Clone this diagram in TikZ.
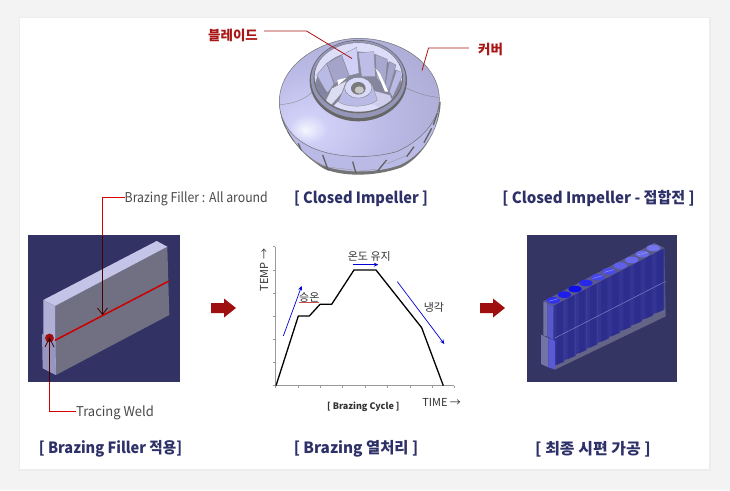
\documentclass[tikz,border=0pt]{standalone}
\usepackage{fontspec}
\setmainfont{Noto Sans CJK KR}
\usetikzlibrary{arrows.meta}
\definecolor{navy}{HTML}{2E3168}
\definecolor{lead}{HTML}{AA1515}
\definecolor{bred}{HTML}{A00F0F}
\definecolor{ts}{HTML}{4A4A4A}
\definecolor{panelbg}{HTML}{F3F3F3}
\definecolor{sA}{HTML}{F6F6FF}
\definecolor{sB}{HTML}{CFCFF7}
\definecolor{sC}{HTML}{BABAE6}
\definecolor{sD}{HTML}{A4A4CC}
\definecolor{cav}{HTML}{85859E}
\pgfdeclareradialshading{impshade}{\pgfpoint{-17bp}{-13bp}}{color(0bp)=(sA);color(6bp)=(sB);color(22bp)=(sC);color(50bp)=(sD);color(100bp)=(sD)}
\tikzset{
  captext/.style={font=\fontsize{15.5}{16}\selectfont\bfseries\addfontfeatures{FakeStretch=#1},text=navy,inner sep=0pt},
  captext/.default=0.94,
  redlbl/.style={font=\fontsize{13.5}{14}\selectfont\bfseries,text=lead,inner sep=0pt},
  graylbl/.style={font=\fontsize{13.5}{14}\selectfont\addfontfeatures{FakeStretch=#1},text=ts,inner sep=0pt},
  chartlbl/.style={font=\fontsize{11}{12}\selectfont,text=black!80,inner sep=0pt},
  leadline/.style={draw=lead,line width=0.8pt},
  redline/.style={draw=red!85!black,line width=0.8pt},
  darkline/.style={draw=black!40!red!45!black,line width=0.8pt},
  bigarrow/.style={fill=bred,draw=none},
  bluearrow/.style={draw=blue!85!black,line width=0.7pt,-{Stealth[length=4.5pt,width=4pt]}},
  bladeline/.style={draw=black!50,line width=0.25pt},
  axisline/.style={draw=black!40,line width=0.4pt}
}
\begin{document}
\begin{tikzpicture}[x=1pt,y=-1pt]
\useasboundingbox (0,0) rectangle (730,490);
\fill[panelbg] (0,0) rectangle (730,490);
\fill[black!7] (19,17) rectangle (711,471);
\fill[white] (20,18) rectangle (709,469);

%% Impeller
\begin{scope}[shift={(190,10)},scale=0.3333]
  \filldraw[fill=black!55,draw=none] (268,280) .. controls (268,340) and (310,420) .. (405,478) .. controls (440,490) and (470,494) .. (505,494) .. controls (545,494) and (590,488) .. (635,472) .. controls (700,440) and (752,350) .. (752,275) -- cycle;
  \begin{scope}
    \clip (268,280) .. controls (268,340) and (310,420) .. (405,478) .. controls (440,490) and (470,494) .. (505,494) .. controls (545,494) and (590,488) .. (635,472) .. controls (700,440) and (752,350) .. (752,275) -- cycle;
    \fill[sC] (275,315) .. controls (300,400) and (360,450) .. (410,470) .. controls (470,490) and (560,490) .. (630,465) .. controls (695,435) and (740,370) .. (746,300) -- (600,300) -- cycle;
    \foreach \a/\b/\c/\d in {272/320/285/355,292/365/310/395,325/400/345/450,398/435/415/482,488/455/498/490,590/450/562/484,672/410/650/440,725/355/702/398,742/310/730/345}
      \draw[black!62,line width=1.3pt] (\a,\b) -- (\c,\d);
    \foreach \a/\b/\c/\d in {420/472/490/480,500/484/560/478,590/462/650/436,350/440/400/468}
      \draw[black!40,line width=0.4pt] (\a,\b) -- (\c,\d);
  \end{scope}
  \shade[shading=impshade,draw=black!58,line width=0.45pt] (268,275) .. controls (268,160) and (400,85) .. (505,85) .. controls (640,85) and (750,170) .. (748,270) .. controls (748,330) and (695,392) .. (620,425) .. controls (540,448) and (420,445) .. (350,405) .. controls (300,378) and (268,330) .. (268,275) -- cycle;
  \draw[black!50,line width=0.3pt] (268,284) .. controls (310,282) and (345,268) .. (368,245);
  \draw[black!50,line width=0.3pt] (645,232) .. controls (680,250) and (715,260) .. (746,262);
  \fill[black!60] (505,212) ellipse [x radius=146,y radius=122];
  \fill[sC!80!black] (505,208) ellipse [x radius=142,y radius=116];
  \fill[black!58] (505,204) ellipse [x radius=134,y radius=106];
  \fill[sB!70!white] (505,200) ellipse [x radius=131,y radius=101];
  \begin{scope}
    \clip (505,203) ellipse [x radius=131,y radius=102];
    \fill[cav] (505,240) ellipse [x radius=131,y radius=115];
    \filldraw[fill=sC,bladeline] (380,195) -- (410,160) -- (432,222) -- (412,250) -- cycle;
    \filldraw[fill=sC!88!black,bladeline] (410,160) -- (455,135) -- (478,198) -- (434,222) -- cycle;
    \filldraw[fill=sB,bladeline] (455,135) -- (500,112) -- (507,190) -- (478,197) -- cycle;
    \filldraw[fill=sC!95!white,bladeline] (505,128) -- (552,125) -- (556,200) -- (515,200) -- cycle;
    \filldraw[fill=sC!90!black,bladeline] (556,133) -- (592,148) -- (585,228) -- (560,205) -- cycle;
    \filldraw[fill=sD,bladeline] (598,155) -- (618,165) -- (597,240) -- (585,228) -- cycle;
    \filldraw[fill=sC,bladeline] (620,180) -- (640,190) -- (608,262) -- (598,245) -- cycle;
    \filldraw[fill=sD!80!black,bladeline] (372,215) -- (415,250) -- (405,285) -- (372,260) -- cycle;
    \fill[white] (556,175) -- (570,190) -- (595,245) -- (585,245) -- cycle;
    \filldraw[fill=sC!50!white,bladeline] (425,235) -- (470,212) -- (455,250) -- (420,290) -- (408,270) -- cycle;
    \filldraw[fill=sC!70!white,bladeline] (545,240) -- (600,255) -- (620,300) -- (520,305) -- cycle;
    \fill[sB!70!white] (415,305) -- (450,268) -- (555,285) -- (590,310) -- cycle;
    \fill[white] (442,210) -- (470,203) -- (445,225) -- cycle;
  \end{scope}
  \filldraw[fill=sC,bladeline] (466,225) -- (445,275) .. controls (470,294) and (535,294) .. (562,270) -- (547,225) -- cycle;
  \filldraw[fill=sB!80!white,draw=black!55,line width=0.3pt] (505,233) ellipse [x radius=41,y radius=31];
  \fill[black!52] (505,235) ellipse [x radius=22,y radius=19];
  \fill[black!22] (508,240) ellipse [x radius=14,y radius=11];
\end{scope}
\node[redlbl] (lblBlade) at (233,35.5) {블레이드};
\node[redlbl] (lblCover) at (490.5,49.5) {커버};
\coordinate (bladeKnee) at (306.5,31);
\coordinate (bladeEnd) at (352,58.5);
\coordinate (coverKnee) at (428.5,48);
\coordinate (coverEnd) at (422,70.5);
\draw[leadline] (lblBlade.east |- bladeKnee) ++(6,0) -- (bladeKnee) -- (bladeEnd);
\draw[leadline] (lblCover.west |- coverKnee) ++(-9,0) -- (coverKnee) -- (coverEnd);

%% Captions
\node[captext] (capA) at (361,199) {[ Closed Impeller ]};
\node[captext=0.97] (capB) at (598.5,199) {[ Closed Impeller - 접합전 ]};
\node[captext] (capC) at (110.5,449) {[ Brazing Filler 적용]};
\node[captext=0.99] (capD) at (356,449) {[ Brazing 열처리 ]};
\node[captext=1.03] (capE) at (593,449) {[ 최종 시편 가공 ]};

%% Left block
\begin{scope}[shift={(20,180)},scale=0.3333]
  \fill[fill={rgb,255:red,50;green,50;blue,100}] (25,165) rectangle (479,605);
  \fill[fill={rgb,255:red,112;green,112;blue,130}] (105,378) -- (442,200) -- (448,405) -- (108,585) -- cycle;
  \fill[fill={rgb,255:red,196;green,196;blue,232}] (70,360) -- (410,183) -- (442,200) -- (105,378) -- cycle;
  \fill[fill={rgb,255:red,176;green,176;blue,214}] (70,360) -- (105,378) -- (108,585) -- (70,565) -- cycle;
  \fill[fill={rgb,255:red,150;green,150;blue,190}] (66,462) -- (105,480) -- (108,585) -- (68,565) -- cycle;
  \draw[red!80!black,line width=1.5pt] (105,481) -- (447,303);
\end{scope}
\node[graylbl=0.91,anchor=west] (lblFiller) at (124.5,198.5) {Brazing Filler : All around};
\node[graylbl=0.96,anchor=west] (lblWeld) at (76,412.5) {Tracing Weld};
\coordinate (fillerEnd) at (102.5,314.5);
\coordinate (fillerIn) at (102.5,235.5);
\coordinate (fillerKnee) at (102.5,197);
\coordinate (weldDot) at (49.5,338);
\coordinate (weldOut) at (49.5,381.5);
\coordinate (weldKnee) at (49.5,411);
\fill[fill=bred] (weldDot) circle (4.4);
\draw[redline] (lblFiller.west |- fillerKnee) -- (fillerKnee) -- (fillerIn);
\draw[darkline] (fillerIn) -- (fillerEnd);
\draw[darkline] (97.5,308) -- (fillerEnd) -- (107.5,308);
\draw[darkline] (weldDot) -- (weldOut);
\draw[darkline] (45,347) -- (weldDot) -- (54,347);
\draw[redline] (weldOut) -- (weldKnee) -- (lblWeld.west |- weldKnee);

%% Big arrows
\coordinate (arrowA) at (211,308);
\coordinate (arrowB) at (480,308);
\foreach \c in {arrowA,arrowB}
  \fill[bigarrow] (\c) ++(0,-5) -- ++(13,0) -- ++(0,-4.5) -- ++(12,9.5) -- ++(-12,9.5) -- ++(0,-4.5) -- ++(-13,0) -- cycle;

%% Chart
\begin{scope}[shift={(250,235)},scale=0.3333]
  \draw[axisline] (75,35) -- (75,452) -- (612,452);
  \foreach \y in {35,105,175,243,313,382,452} \draw[axisline] (68,\y) -- (75,\y);
  \foreach \x in {75,145,211,278,345,412,480,547,612} \draw[axisline] (\x,452) -- (\x,459);
  \draw[black,line width=1.3pt,line join=round] (78,452) -- (145,243) -- (178,243) -- (210,208) -- (245,208) -- (312,105) -- (378,105) -- (515,278) -- (580,452);
  \draw[bluearrow] (100,303) -- (155,153);
  \draw[bluearrow] (310,89) -- (385,89);
  \draw[bluearrow] (442,140) -- (583,327);
  \draw[red!70!black!70,line width=0.5pt] (148,202) -- (208,202);
  \node[chartlbl] (tUp) at (178,186) {승온};
  \node[chartlbl] (tHold) at (358,63) {온도 유지};
  \node[chartlbl] (tCool) at (552,218) {냉각};
  \node[chartlbl,rotate=90] (tTemp) at (42,105) {TEMP →};
  \node[chartlbl] (tTime) at (575,501) {TIME →};
  \node[font=\fontsize{9}{10}\selectfont\bfseries,text=black!80,inner sep=0pt] (tCycle) at (340,515) {[ Brazing Cycle ]};
\end{scope}

%% Right block
\fill[fill={rgb,255:red,53;green,53;blue,100}] (527,235) rectangle (677,382);
\begin{scope}[shift={(535,238)},scale=0.3333]
  \fill[fill={rgb,255:red,100;green,100;blue,135}] (55,203) -- (388,30) -- (392,235) -- (60,395) -- cycle;
  \foreach \i in {0,...,9}{
    \pgfmathsetmacro{\xa}{55+33.3*\i}
    \pgfmathsetmacro{\xb}{\xa+33.3}
    \pgfmathsetmacro{\xc}{\xa+10}
    \pgfmathsetmacro{\xd}{\xa+29}
    \pgfmathsetmacro{\ya}{203-17.3*\i}
    \pgfmathsetmacro{\yb}{\ya-17.3}
    \pgfmathsetmacro{\yf}{\yb+185}
    \pgfmathsetmacro{\yg}{\yb+198}
    \fill[fill={rgb,255:red,52;green,52;blue,148}] (\xa,\ya) -- (\xb,\yb) -- (\xb,\yf) -- (\xa,\yg) -- cycle;
    \fill[fill={rgb,255:red,45;green,45;blue,142}] (\xc,{\ya-5}) -- (\xd,{\yb+2}) -- (\xd,{\yf+1}) -- (\xc,{\yg-3}) -- cycle;
  }
  \fill[fill={rgb,255:red,115;green,115;blue,165}] (25,190) -- (38,196) -- (38,296) -- (25,292) -- cycle;
  \fill[fill={rgb,255:red,88;green,88;blue,205}] (38,196) -- (55,203) -- (55,306) -- (38,296) -- cycle;
  \fill[fill={rgb,255:red,115;green,115;blue,165}] (18,290) -- (40,300) -- (40,388) -- (18,378) -- cycle;
  \fill[fill={rgb,255:red,90;green,90;blue,215}] (40,300) -- (60,309) -- (60,395) -- (40,388) -- cycle;
  \fill[fill={rgb,255:red,90;green,90;blue,140}] (25,190) -- (358,15) -- (388,30) -- (55,203) -- cycle;
  \foreach \x/\y/\c in {55/187/50,88/170/30,120/153/15,153/135/40,188/118/70,222/100/75,256/83/95,290/66/105,322/48/105,355/30/115}{
    \fill[fill={rgb,255:red,\c;green,\c;blue,235}] (\x,\y) ellipse [x radius=20,y radius=10];
  }
  \foreach \x/\y in {55/187,188/118,222/100,322/48}
    \draw[white!70!blue,line width=0.3pt] ({\x-15},{\y+3}) -- ({\x+15},{\y-5});
  \draw[draw={rgb,255:red,125;green,125;blue,195},line width=0.5pt] (60,300) -- (392,130);
\end{scope}
\end{tikzpicture}
\end{document}
